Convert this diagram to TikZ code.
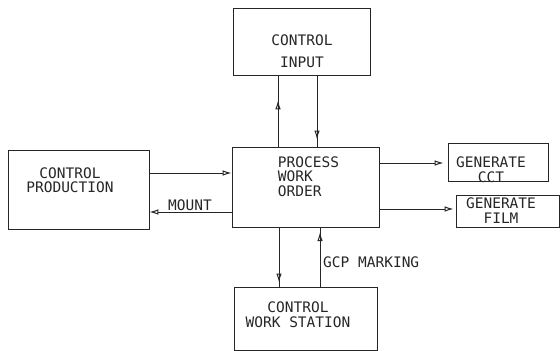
\documentclass[tikz,border=0pt]{standalone}
\usepackage{fontspec}
\setmonofont{DejaVu Sans Mono}
\usetikzlibrary{arrows.meta,decorations.markings}
\tikzset{
  box/.style={draw=black!85, line width=0.7pt, rectangle, inner sep=0pt},
  lbl/.style={font=\ttfamily\fontsize{14.5}{14.5}\selectfont, text=black!85, inner sep=0pt, align=center},
  conn/.style={draw=black!85, line width=0.7pt},
  tipA/.style={-{Latex[open,length=9pt,width=5.5pt,line width=1pt]}},
  midtip/.style={postaction={decorate}, decoration={markings, mark=at position #1 with {\arrow{Latex[open,length=9pt,width=5.5pt,line width=1pt]}}}}
}
\begin{document}
\begin{tikzpicture}[x=1pt,y=-1pt]
\useasboundingbox (0,0) rectangle (560,351);
% boxes
\node[box, minimum width=137pt, minimum height=67pt] (ci) at (301.5,41.5) {};
\node[box, minimum width=147pt, minimum height=80pt] (pwo) at (305.5,187) {};
\node[box, minimum width=141pt, minimum height=79pt] (cp) at (78.5,189.5) {};
\node[box, minimum width=100pt, minimum height=38pt] (cct) at (498,162.5) {};
\node[box, minimum width=103pt, minimum height=32pt] (film) at (507.5,211) {};
\node[box, minimum width=143pt, minimum height=63pt] (cws) at (305.5,318.5) {};
% texts
\node[lbl] (ciT) at (302,51) {CONTROL\\[7.5pt]INPUT};
\node[lbl, align=left] (pwoT) at (308.5,176.5) {PROCESS\\WORK\\ORDER};
\node[lbl] (cpT) at (70,180) {CONTROL\\PRODUCTION};
\node[lbl] (cctT) at (491,169.5) {GENERATE\\CCT};
\node[lbl] (filmT) at (501,210.5) {GENERATE\\FILM};
\node[lbl] (cwsT) at (298,314.5) {CONTROL\\WORK STATION};
\node[lbl, anchor=west] (mountT) at (168,205) {MOUNT};
\node[lbl, anchor=west] (gcpT) at (323,262) {GCP MARKING};
% connectors
\draw[conn, midtip=0.65] (pwo.north -| 278,0) -- (ci.south -| 278,0);
\draw[conn, midtip=0.9] (ci.south -| 317,0) -- (pwo.north -| 317,0);
\draw[conn, tipA] (cp.east |- 0,173) -- (pwo.west |- 0,173);
\draw[conn, tipA] (pwo.west |- 0,212) -- (cp.east |- 0,212);
\draw[conn, tipA, shorten >=4pt] (pwo.east |- 0,163) -- (cct.west |- 0,163);
\draw[conn, tipA, shorten >=2pt] (pwo.east |- 0,209) -- (film.west |- 0,209);
\draw[conn, midtip=0.93] (pwo.south -| 279,0) -- (cws.north -| 279,0);
\draw[conn, midtip=0.92] (cws.north -| 320,0) -- (pwo.south -| 320,0);
\end{tikzpicture}
\end{document}
